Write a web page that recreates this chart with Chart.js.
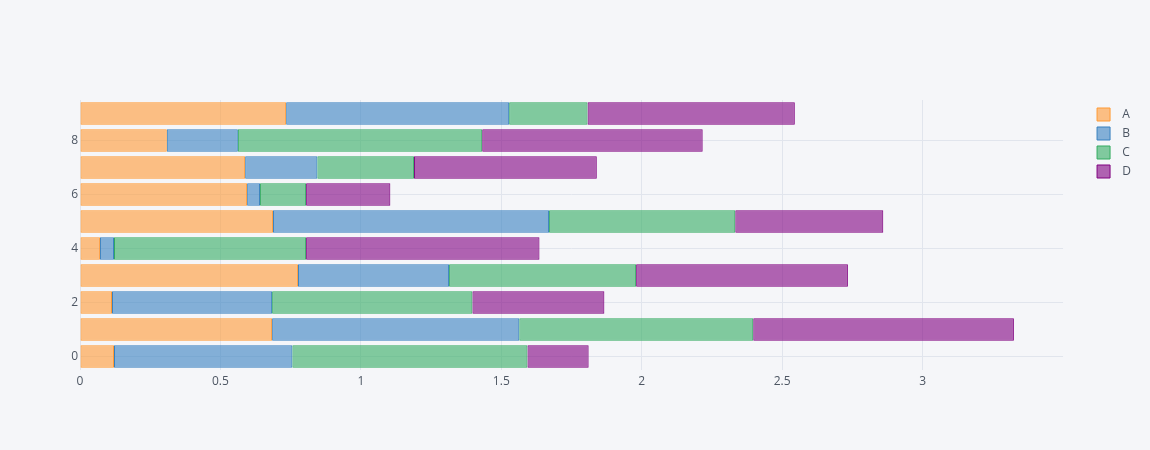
<!DOCTYPE html>
<html>
<head>
    <title>Barras apiladas</title>
    <script src="https://cdn.jsdelivr.net/npm/chart.js"></script>
    <style>
        body { margin: 0; background: #F5F6F9; }
    </style>
</head>
<body>
    <canvas id="barras" width="1150" height="450"></canvas>

    <script>
        // Datos
        var categorias = ['0', '1', '2', '3', '4', '5', '6', '7', '8', '9'];
        var serieA = [0.121, 0.684, 0.114, 0.776, 0.071, 0.687, 0.595, 0.588, 0.309, 0.734];
        var serieB = [0.635, 0.880, 0.570, 0.538, 0.050, 0.983, 0.046, 0.257, 0.253, 0.794];
        var serieC = [0.837, 0.833, 0.713, 0.666, 0.684, 0.663, 0.164, 0.344, 0.870, 0.279];
        var serieD = [0.218, 0.928, 0.470, 0.754, 0.831, 0.527, 0.300, 0.651, 0.785, 0.738];
        var nombres = ['A', 'B', 'C', 'D'];
        var ticksX = [0, 0.5, 1, 1.5, 2, 2.5, 3];

        var colores = [
            [255, 153, 51],
            [55, 128, 191],
            [50, 171, 96],
            [128, 0, 128]
        ];
        var series = [serieA, serieB, serieC, serieD];

        var datasets = series.map(function(s, i) {
            var c = colores[i];
            return {
                label: nombres[i],
                data: s,
                backgroundColor: 'rgba(' + c.join(',') + ',0.6)',
                borderColor: 'rgb(' + c.join(',') + ')',
                borderWidth: 1,
                borderSkipped: false,
                categoryPercentage: 1,
                barPercentage: 0.83
            };
        });

        // baja un poco la leyenda
        var ajusteLeyenda = {
            id: 'ajusteLeyenda',
            afterLayout: function(chart) { chart.legend.top += 2; }
        };

        Chart.defaults.font.family = '"Open Sans", verdana, arial, sans-serif';
        Chart.defaults.font.size = 12;
        Chart.defaults.color = '#4D5663';

        var ctx = document.getElementById('barras').getContext('2d');
        var chart = new Chart(ctx, {
            type: 'bar',
            data: {
                labels: categorias,
                datasets: datasets
            },
            plugins: [ajusteLeyenda],
            options: {
                indexAxis: 'y',
                responsive: false,
                animation: false,
                layout: { padding: { top: 100, bottom: 50, left: 0, right: 9 } },
                plugins: {
                    tooltip: { enabled: false },
                    legend: {
                        position: 'right',
                        align: 'start',
                        labels: {
                            boxWidth: 13,
                            boxHeight: 13,
                            padding: 6,
                            color: '#4D5663',
                            generateLabels: function(c) {
                                var items = Chart.defaults.plugins.legend.labels.generateLabels(c);
                                items.forEach(function(it) { it.text = '  ' + it.text; });
                                return items;
                            }
                        }
                    }
                },
                scales: {
                    x: {
                        stacked: true,
                        min: 0,
                        max: 3.5,
                        ticks: {
                            padding: 4,
                            color: '#4D5663',
                            callback: function(val) { return String(val); }
                        },
                        grid: { color: '#E1E5ED', drawTicks: false },
                        border: { display: false },
                        afterBuildTicks: function(scale) {
                            scale.ticks = ticksX.map(function(v) { return { value: v }; });
                        },
                        afterFit: function(scale) { scale.height = 30; }
                    },
                    y: {
                        stacked: true,
                        reverse: true,
                        ticks: {
                            autoSkip: false,
                            padding: 2,
                            color: '#4D5663',
                            callback: function(val, idx) { return idx % 2 === 0 ? categorias[idx] : ''; }
                        },
                        grid: {
                            offset: false,
                            drawTicks: false,
                            color: function(c) { return c.index % 2 === 0 ? '#E1E5ED' : 'rgba(0,0,0,0)'; }
                        },
                        border: { display: false },
                        afterFit: function(scale) { scale.width = 80; }
                    },
                    hueco: {
                        type: 'linear',
                        axis: 'y',
                        position: 'right',
                        ticks: { display: false },
                        grid: { display: false },
                        border: { display: false },
                        afterFit: function(scale) { scale.width = 28; }
                    }
                }
            }
        });
    </script>
</body>
</html>
